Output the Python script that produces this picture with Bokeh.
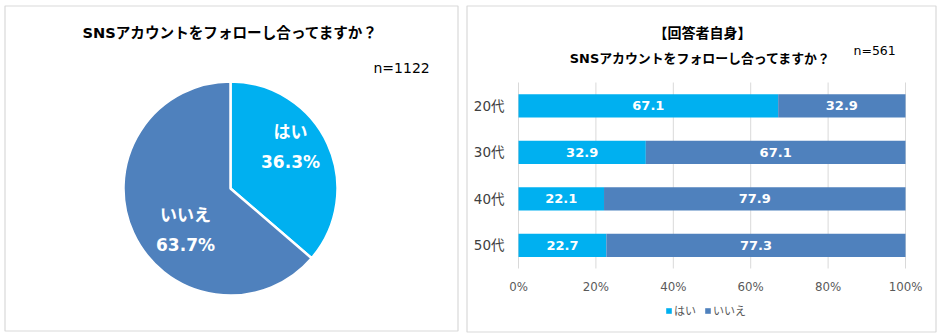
from bokeh.plotting import figure
from bokeh.models import Range1d, ColumnDataSource, Legend, LegendItem
from bokeh.core.properties import value
from bokeh.embed import file_html
from bokeh.resources import INLINE
import math

# ---------------- data ----------------
pie_title = "SNSアカウントをフォローし合ってますか？"
pie_n = "n=1122"
pie_labels = ["はい", "いいえ"]
pie_values = [36.3, 63.7]

bar_title1 = "【回答者自身】"
bar_title2 = "SNSアカウントをフォローし合ってますか？"
bar_n = "n=561"
ages = ["20代", "30代", "40代", "50代"]
yes_vals = [67.1, 32.9, 22.1, 22.7]
no_vals = [32.9, 67.1, 77.9, 77.3]
x_ticks = [0, 20, 40, 60, 80, 100]
x_tick_labels = ["0%", "20%", "40%", "60%", "80%", "100%"]

# ---------------- style / layout ----------------
FONT = "DejaVu Sans, Noto Sans CJK JP"
C_YES = "#00B0F0"
C_NO = "#4F81BD"
C_BORDER = "#D9D9D9"
C_TICK = "#595959"
W, H = 940, 334


def up(t):
    """page pixel row (from top) -> canvas y (from bottom)"""
    return H - t


# bar plot area on the page
BAR_L, BAR_R, BAR_T, BAR_B = 518, 905, 82, 268
px_per_pct = (BAR_R - BAR_L) / 100.0
band = (BAR_B - BAR_T) / len(ages)

p = figure(width=W, height=H, output_backend="svg", toolbar_location=None,
           x_range=Range1d(0, W), y_range=Range1d(0, H),
           x_axis_location=None, y_axis_location=None, min_border=0,
           outline_line_color=None)
p.xgrid.visible = False
p.ygrid.visible = False
p.extra_x_ranges = {"pct": Range1d(-BAR_L / px_per_pct, (W - BAR_L) / px_per_pct)}
p.extra_y_ranges = {"row": Range1d((H - BAR_T) / band - 0.5, -BAR_T / band - 0.5)}

# panel borders
p.quad(left=[4.5, 466.5], right=[457.5, 935.5], top=[up(5.5), up(5.5)],
       bottom=[up(330.5), up(331.5)], fill_color=None, line_color=C_BORDER, line_width=1.2)

# ---------------- pie ----------------
cx, cy, R = 230, up(188), 107
total = sum(pie_values)
starts, ends = [], []
acc = 0.0
for v in pie_values:
    a0 = math.pi / 2 - 2 * math.pi * acc / total
    a1 = math.pi / 2 - 2 * math.pi * (acc + v) / total
    starts.append(a1)
    ends.append(a0)
    acc += v
src = ColumnDataSource(dict(start=starts, end=ends, color=[C_YES, C_NO]))
p.wedge(x=cx, y=cy, radius=R, radius_units="screen", start_angle="start", end_angle="end",
        direction="anticlock", fill_color="color", line_color="white", line_width=2.5, source=src)

label_off = [(60, 42), (-45, -41)]
for lab, v, (dx, dy) in zip(pie_labels, pie_values, label_off):
    p.text(x=[cx + dx], y=[cy + dy + 15], text=[lab], text_align="center", text_baseline="middle",
           text_font=value(FONT), text_font_size="17px", text_font_style="bold", text_color="white")
    p.text(x=[cx + dx], y=[cy + dy - 15], text=[f"{v:.1f}%"], text_align="center",
           text_baseline="middle", text_font=value(FONT), text_font_size="17px",
           text_font_style="bold", text_color="white")

p.text(x=[230], y=[up(32)], text=[pie_title], text_align="center", text_baseline="middle",
       text_font=value(FONT), text_font_size="14.6px", text_font_style="bold", text_color="black")
p.text(x=[373], y=[up(67)], text=[pie_n], text_align="left", text_baseline="middle",
       text_font=value(FONT), text_font_size="14px", text_color="black")

# ---------------- bar chart ----------------
idx = list(range(len(ages)))
n_t = len(x_ticks)
# vertical grid lines
p.segment(x0=x_ticks, x1=x_ticks, y0=[-0.5] * n_t, y1=[len(ages) - 0.5] * n_t,
          x_range_name="pct", y_range_name="row", line_color=C_BORDER, line_width=1)

bsrc = ColumnDataSource(dict(idx=idx, はい=yes_vals, いいえ=no_vals))
rs = p.hbar_stack(["はい", "いいえ"], y="idx", height=0.5, color=[C_YES, C_NO],
                  line_color=None, source=bsrc, x_range_name="pct", y_range_name="row")

yes_mid = [v / 2 for v in yes_vals]
no_mid = [y + n / 2 for y, n in zip(yes_vals, no_vals)]
lsrc = ColumnDataSource(dict(idx=idx + idx, x=yes_mid + no_mid,
                             t=[f"{v:.1f}" for v in yes_vals] + [f"{v:.1f}" for v in no_vals]))
p.text(x="x", y="idx", text="t", source=lsrc, text_align="center", text_baseline="middle",
       text_font=value(FONT), text_font_size="13px", text_font_style="bold", text_color="white",
       x_range_name="pct", y_range_name="row")

# category labels (y axis)
p.text(x=[BAR_L - 14] * len(ages), y=idx, text=ages, y_range_name="row",
       text_align="right", text_baseline="middle", text_font=value(FONT),
       text_font_size="13.5px", text_color="#404040")
# percentage labels (x axis)
p.text(x=x_ticks, y=[up(BAR_B + 18)] * n_t, text=x_tick_labels, x_range_name="pct",
       text_align="center", text_baseline="middle", text_font=value(FONT),
       text_font_size="11.8px", text_color=C_TICK)

# titles
p.text(x=[702], y=[up(32)], text=[bar_title1], text_align="center", text_baseline="middle",
       text_font=value(FONT), text_font_size="14px", text_font_style="bold", text_color="black")
p.text(x=[700], y=[up(58)], text=[bar_title2], text_align="center", text_baseline="middle",
       text_font=value(FONT), text_font_size="12.9px", text_font_style="bold", text_color="black")
p.text(x=[853], y=[up(50)], text=[bar_n], text_align="left", text_baseline="middle",
       text_font=value(FONT), text_font_size="12.5px", text_color="black")

legend = Legend(items=[LegendItem(label="はい", renderers=[rs[0]]),
                       LegendItem(label="いいえ", renderers=[rs[1]])],
                orientation="horizontal", location=(665, up(318)),
                label_text_font=FONT, label_text_font_size="11px", label_text_color=C_TICK,
                glyph_width=7, glyph_height=7, label_standoff=2, spacing=8,
                padding=0, margin=0, label_height=12, border_line_color=None,
                background_fill_alpha=0)
p.add_layout(legend)

open("out.html", "w").write(file_html(p, INLINE))
